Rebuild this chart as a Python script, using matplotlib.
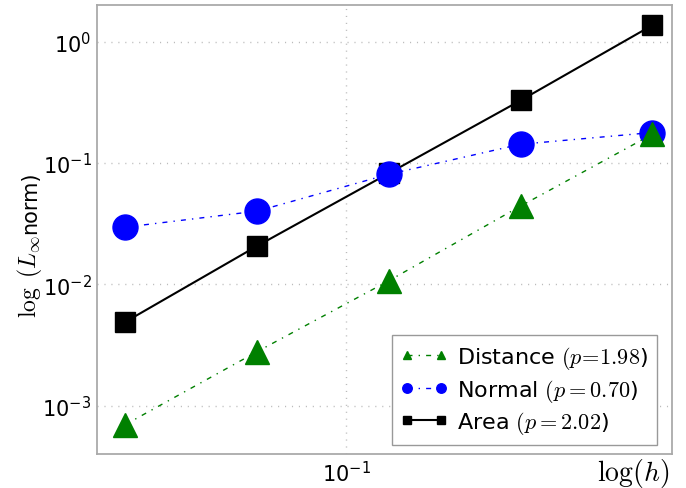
import numpy as np
import matplotlib
matplotlib.use('Agg')
import matplotlib.pyplot as plt

plt.rcParams['mathtext.fontset'] = 'cm'
plt.rcParams['axes.unicode_minus'] = False

# 網格間距 h 與各方法的誤差
h = [1/32, 1/16, 1/8, 1/4, 1/2]
err_distance = [0.00070, 0.00279, 0.0107, 0.0441, 0.172]
err_normal = [0.0296, 0.0401, 0.0807, 0.1425, 0.178]
err_area = [0.00491, 0.0207, 0.0822, 0.327, 1.36]

label_distance = 'Distance $(p\\!=\\!1.98$)'
label_normal = 'Normal $(p=0.70$)'
label_area = 'Area $(p=2.02$)'

fig = plt.figure(figsize=(6.86, 4.89), dpi=100)
ax = fig.add_axes([0.1414, 0.0695, 0.8382, 0.9182])

# 點劃線樣式 (以線寬為單位)
dashdot = [3.6, 4.4, 1.0, 4.4]

l3, = ax.plot(h, err_area, linestyle='-', color='k', marker='s', markersize=15, linewidth=1.5, label=label_area)
l2, = ax.plot(h, err_normal, linestyle='-.', dashes=dashdot, color='b', marker='o', markersize=18, linewidth=1.0, label=label_normal)
l1, = ax.plot(h, err_distance, linestyle='-.', dashes=dashdot, color='g', marker='^', markersize=17, linewidth=1.0, label=label_distance)

ax.set_xscale('log')
ax.set_yscale('log')
ax.set_xlim(0.0269, 0.555)
ax.set_ylim(4e-4, 2.0)

ax.minorticks_off()
ax.tick_params(length=0, labelsize=15, pad=4)
ax.grid(True, which='major', linestyle=(0, (0.8, 4.2)), color='#bbbbbb', linewidth=1)
for s in ax.spines.values():
    s.set_color('#aaaaaa')
    s.set_linewidth(1.3)

ax.set_xlabel(r'$\log(h)$', fontsize=20, ha='right', va='top')
ax.xaxis.set_label_coords(0.995, -0.005)

leg = ax.legend(handles=[l1, l2, l3], loc='lower right', bbox_to_anchor=(0.974, 0.020),
                fontsize=16, markerscale=0.38, numpoints=2, fancybox=False, framealpha=1,
                borderaxespad=0, handlelength=2.1, handletextpad=0.45, labelspacing=0.25)
leg.get_frame().set_edgecolor('#999999')

# y 軸標籤: 數學部分與文字部分字體大小不同, 分兩段畫
y_x = 0.0525
y_start = 0.3497
t1 = fig.text(y_x, y_start, r'$\log\ (L_\infty$', fontsize=17, rotation=90,
              rotation_mode='anchor', ha='left', va='baseline')
fig.canvas.draw()
bb = t1.get_window_extent(fig.canvas.get_renderer())
fig.text(y_x, (bb.y1 + 1) / fig.bbox.height, 'norm)', fontsize=15, rotation=90,
         rotation_mode='anchor', ha='left', va='baseline')

plt.savefig('out.png', dpi=100)
plt.close()
